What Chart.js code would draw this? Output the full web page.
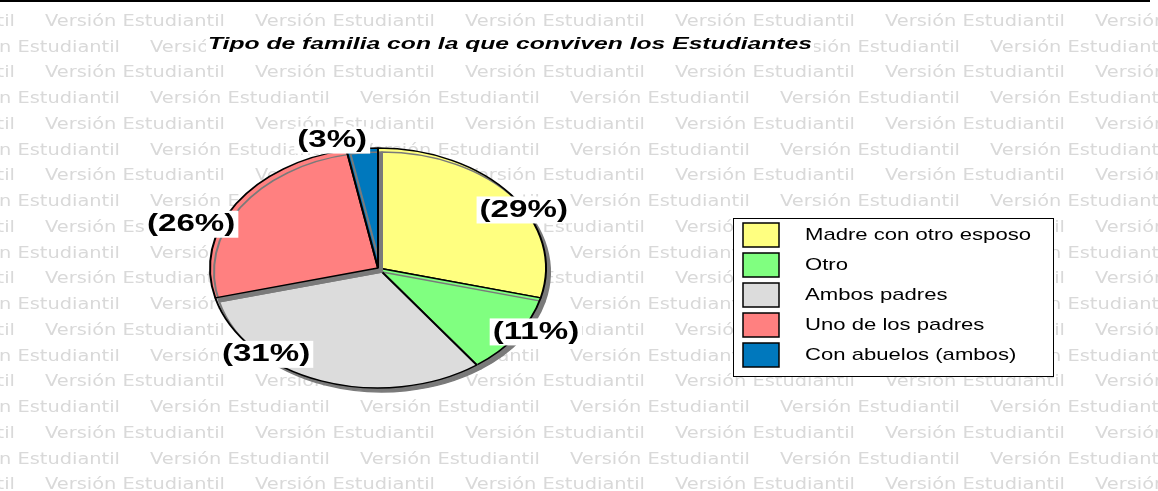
<!DOCTYPE html>
<html>
<head>
<meta charset="utf-8">
<title>Tipo de familia</title>
<script src="https://cdn.jsdelivr.net/npm/chart.js"></script>
<style>
    body {
        margin: 0;
        padding: 0;
        background-color: #fff;
    }
    canvas {
        display: block;
    }
</style>
</head>
<body>
<canvas id="myChart" width="1158" height="491"></canvas>
<script>
    var chartTitle = 'Tipo de familia con la que conviven los Estudiantes';
    var categories = ['Madre con otro esposo', 'Otro', 'Ambos padres', 'Uno de los padres', 'Con abuelos (ambos)'];
    var percentages = [29, 11, 31, 26, 3];
    var sliceColors = ['#ffff80', '#80ff80', '#dcdcdc', '#ff8080', '#0078bd'];
    var watermarkText = 'Versión Estudiantil';

    // the original picture is stretched sideways, so the pie is an ellipse and text is wide
    var squash = 0.714;
    // label nudges from the arc mid point (layout only)
    var labelNudge = [[13, 15], [19, -4], [-55, -27], [-45, 20], [-30, -9]];

    function wideText(ctx, text, x, y, sx) {
        ctx.save();
        ctx.translate(x, y);
        ctx.scale(sx, 1);
        ctx.fillText(text, 0, 0);
        ctx.restore();
    }

    var backgroundPlugin = {
        id: 'background',
        beforeDraw: function (chart) {
            var ctx = chart.ctx;
            ctx.save();
            ctx.fillStyle = '#fff';
            ctx.fillRect(0, 0, chart.width, chart.height);
            ctx.font = '15px "DejaVu Sans"';
            var sx = 180 / ctx.measureText(watermarkText).width;
            ctx.fillStyle = '#d9d9d9';
            ctx.textAlign = 'left';
            ctx.textBaseline = 'middle';
            for (var r = -1; r < 19; r++) {
                var y = 22 + r * 25.75;
                var start = (r % 2 === 0) ? 45 : 150;
                for (var x = start - 420; x < chart.width; x += 210) {
                    wideText(ctx, watermarkText, x, y, sx);
                }
            }
            ctx.fillStyle = '#000';
            ctx.fillRect(0, 0, 1150, 2);
            ctx.restore();
        }
    };

    var ellipsePlugin = {
        id: 'ellipse',
        beforeDatasetsDraw: function (chart) {
            var ctx = chart.ctx;
            var arc = chart.getDatasetMeta(0).data[0];
            ctx.save();
            ctx.translate(arc.x, arc.y);
            ctx.scale(1, squash);
            ctx.translate(-arc.x, -arc.y);
            ctx.shadowColor = '#7a7a7a';
            ctx.shadowOffsetX = 4;
            ctx.shadowOffsetY = 4;
            ctx.shadowBlur = 0;
        },
        afterDatasetsDraw: function (chart) {
            chart.ctx.restore();
        }
    };

    var textPlugin = {
        id: 'texts',
        afterDraw: function (chart) {
            var ctx = chart.ctx;
            ctx.save();
            ctx.textBaseline = 'middle';
            ctx.textAlign = 'center';

            // title
            ctx.font = 'italic bold 17px Arial';
            var tsx = 604 / ctx.measureText(chartTitle).width;
            ctx.fillStyle = '#fff';
            ctx.fillRect(206, 35, 608, 20);
            ctx.fillStyle = '#000';
            wideText(ctx, chartTitle, 510, 44, tsx);

            // percentage labels
            var arcs = chart.getDatasetMeta(0).data;
            ctx.font = 'bold 24px Arial';
            arcs.forEach(function (a, i) {
                var mid = (a.startAngle + a.endAngle) / 2;
                var x = a.x + Math.cos(mid) * a.outerRadius + labelNudge[i][0];
                var y = a.y + Math.sin(mid) * a.outerRadius * squash + labelNudge[i][1];
                var txt = '(' + percentages[i] + '%)';
                var w = ctx.measureText(txt).width * 1.38;
                ctx.fillStyle = '#fff';
                ctx.fillRect(x - w / 2 - 3, y - 13, w + 6, 27);
                ctx.fillStyle = '#000';
                wideText(ctx, txt, x, y + 1, 1.38);
            });

            // legend box
            ctx.fillStyle = '#fff';
            ctx.fillRect(733, 218, 320, 158);
            ctx.strokeStyle = '#000';
            ctx.lineWidth = 1;
            ctx.strokeRect(733.5, 218.5, 320, 158);
            ctx.font = '17px Arial';
            ctx.textAlign = 'left';
            categories.forEach(function (c, i) {
                var top = 223 + i * 30;
                ctx.fillStyle = sliceColors[i];
                ctx.fillRect(743, top, 36, 24);
                ctx.lineWidth = 1.5;
                ctx.strokeRect(743, top, 36, 24);
                ctx.fillStyle = '#000';
                wideText(ctx, c, 805, top + 12, 1.3);
            });
            ctx.restore();
        }
    };

    var ctx = document.getElementById('myChart').getContext('2d');
    var myChart = new Chart(ctx, {
        type: 'pie',
        data: {
            labels: categories,
            datasets: [{
                data: percentages,
                backgroundColor: sliceColors,
                borderColor: '#000',
                borderWidth: 2
            }]
        },
        options: {
            responsive: false,
            animation: false,
            events: [],
            layout: {
                padding: { left: 209, right: 611, top: 99, bottom: 54 }
            },
            plugins: {
                legend: { display: false },
                title: { display: false },
                tooltip: { enabled: false }
            }
        },
        plugins: [backgroundPlugin, ellipsePlugin, textPlugin]
    });
</script>
</body>
</html>
